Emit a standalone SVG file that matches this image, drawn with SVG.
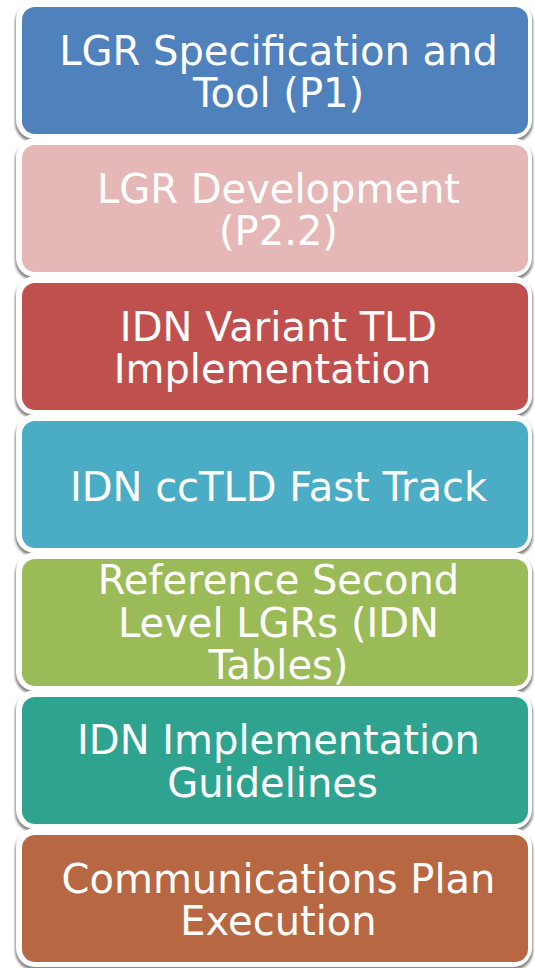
<svg xmlns="http://www.w3.org/2000/svg" width="535" height="968" viewBox="0 0 535 968">
<defs>
<filter id="sh" x="-5%" y="-10%" width="110%" height="125%">
<feGaussianBlur stdDeviation="1.3"/>
</filter>
<style>
.shadow{fill:#8a8a8a;filter:url(#sh);}
.bg{fill:#ffffff;}
.t{font-family:"DejaVu Sans",Verdana,sans-serif;font-size:40px;fill:#ffffff;text-anchor:middle;}
</style>
</defs>
<rect width="535" height="968" fill="#ffffff"/>
<g id="n1">
<rect class="shadow" x="15" y="3" width="518" height="139" rx="19"/>
<rect class="bg" x="16" y="0" width="516" height="139" rx="19"/>
<rect x="22" y="7" width="506" height="127" rx="13" fill="#4F81BD"/>
<text class="t" x="278.5" y="64.5">LGR Specification and</text>
<text class="t" x="278.5" y="107.3">Tool (P1)</text>
</g>
<g id="n2">
<rect class="shadow" x="15" y="141" width="518" height="139" rx="19"/>
<rect class="bg" x="16" y="138" width="516" height="139" rx="19"/>
<rect x="22" y="145" width="506" height="127" rx="13" fill="#E5B8B7"/>
<text class="t" x="278.5" y="202.7">LGR Development</text>
<text class="t" x="278.5" y="245.4">(P2.2)</text>
</g>
<g id="n3">
<rect class="shadow" x="15" y="279" width="518" height="139" rx="19"/>
<rect class="bg" x="16" y="276" width="516" height="139" rx="19"/>
<rect x="22" y="283" width="506" height="127" rx="13" fill="#C0504D"/>
<text class="t" x="278.5" y="340.5">IDN Variant TLD</text>
<text class="t" x="272.5" y="382.5">Implementation</text>
</g>
<g id="n4">
<rect class="shadow" x="15" y="417" width="518" height="139" rx="19"/>
<rect class="bg" x="16" y="414" width="516" height="139" rx="19"/>
<rect x="22" y="421" width="506" height="127" rx="13" fill="#4BACC6"/>
<text class="t" x="278.5" y="501">IDN ccTLD Fast Track</text>
</g>
<g id="n5">
<rect class="shadow" x="15" y="555" width="518" height="139" rx="19"/>
<rect class="bg" x="16" y="552" width="516" height="139" rx="19"/>
<rect x="22" y="559" width="506" height="127" rx="13" fill="#9BBB59"/>
<text class="t" x="278.5" y="594">Reference Second</text>
<text class="t" x="278.5" y="636.6">Level LGRs (IDN</text>
<text class="t" x="278.5" y="679.3">Tables)</text>
</g>
<g id="n6">
<rect class="shadow" x="15" y="693" width="518" height="139" rx="19"/>
<rect class="bg" x="16" y="690" width="516" height="139" rx="19"/>
<rect x="22" y="697" width="506" height="127" rx="13" fill="#2EA38F"/>
<text class="t" x="278.5" y="754.3">IDN Implementation</text>
<text class="t" x="272.5" y="797.2">Guidelines</text>
</g>
<g id="n7">
<rect class="shadow" x="15" y="831" width="518" height="139" rx="19"/>
<rect class="bg" x="16" y="828" width="516" height="139" rx="19"/>
<rect x="22" y="835" width="506" height="127" rx="13" fill="#B76843"/>
<text class="t" x="278.5" y="892.7">Communications Plan</text>
<text class="t" x="278.5" y="935.3">Execution</text>
</g>
<g id="connectors"/>
</svg>
